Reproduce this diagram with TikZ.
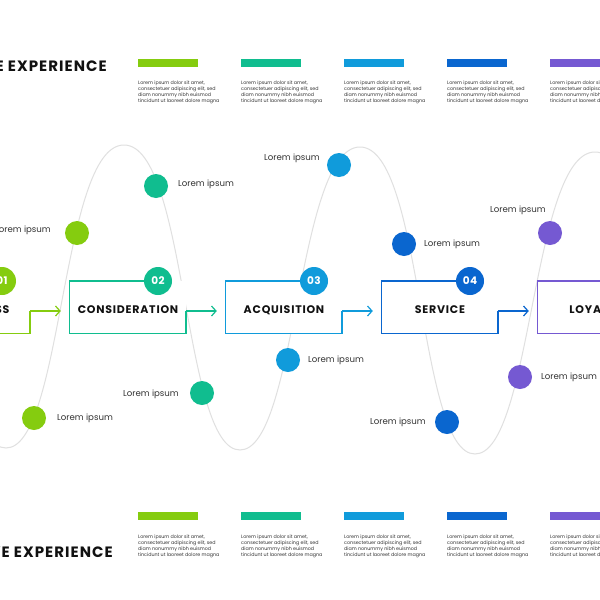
\documentclass[tikz,border=0pt]{standalone}
\usepackage{fontspec}
\setmainfont{Poppins}
\usetikzlibrary{arrows.meta}
\definecolor{cgreen}{HTML}{85CC0F}
\definecolor{cteal}{HTML}{10BD8F}
\definecolor{cblue}{HTML}{109BDB}
\definecolor{cdblue}{HTML}{0A66CF}
\definecolor{cpurple}{HTML}{7559D2}
\definecolor{wavegray}{HTML}{E0E0E0}
\definecolor{txtgray}{HTML}{333333}
\definecolor{txtdark}{HTML}{111111}
\begin{document}
\begin{tikzpicture}[x=1pt,y=-1pt,
  dot/.style={circle,inner sep=0,minimum size=24pt},
  lbl/.style={font=\fontsize{8.6}{10}\selectfont,text=txtgray,inner sep=0},
  badge/.style={circle,inner sep=0,minimum size=28pt,text=white,font=\bfseries\fontsize{10.5}{12}\selectfont\addfontfeatures{LetterSpace=4}},
  stagebox/.style={fill=white,inner sep=0,minimum width=116pt,minimum height=52pt},
  stagetxt/.style={font=\bfseries\fontsize{11}{12}\selectfont\addfontfeatures{LetterSpace=7},text=txtdark,inner sep=0},
  para/.style={font=\fontsize{4.8}{6}\selectfont,align=left,inner sep=0,anchor=north west,text=txtgray},
  bar/.style={minimum width=60pt,minimum height=8pt,inner sep=0,anchor=north west},
  title/.style={font=\bfseries\fontsize{15}{17}\selectfont\addfontfeatures{LetterSpace=7},anchor=east,inner sep=0,text=txtdark},
  flow/.style={line width=1.2pt},
  flowarrow/.style={line width=1.2pt,-{Straight Barb[length=4.5pt,width=10pt]}},
  wave/.style={draw=wavegray,line width=1pt}]
\useasboundingbox (0,0) rectangle (600,600);
\clip (0,0) rectangle (600,600);
\fill[white] (0,0) rectangle (600,600);

% titles
\node[title] (ttop) at (107,66) {POSITIVE EXPERIENCE};
\node[title] (tbot) at (113,552) {NEGATIVE EXPERIENCE};

% top bars and texts
\foreach \x/\c [count=\i] in {138/cgreen,241/cteal,344/cblue,447/cdblue,550/cpurple}{
  \node[bar,fill=\c] (tb\i) at (\x,59) {};
  \node[para] (tp\i) at (\x,80.5) {Lorem ipsum dolor sit amet,\\consectetuer adipiscing elit, sed\\diam nonummy nibh euismod\\tincidunt ut laoreet dolore magna};
  \node[bar,fill=\c] (bb\i) at (\x,512) {};
  \node[para] (bp\i) at (\x,534.5) {Lorem ipsum dolor sit amet,\\consectetuer adipiscing elit, sed\\diam nonummy nibh euismod\\tincidunt ut laoreet dolore magna};
}

% wave
\draw[wave] (-112,143) .. controls (-49,143) and (-51,448) .. (6,448)
  .. controls (63,448) and (61,145) .. (124,145)
  .. controls (187,145) and (183,450) .. (240,450)
  .. controls (297,450) and (297,147) .. (360,147)
  .. controls (423,147) and (418,454) .. (475,454)
  .. controls (532,454) and (532,152) .. (595,152)
  .. controls (658,152) and (655,456) .. (712,456);

% stage boxes
\foreach \L/\c/\t/\n [count=\i] in {-86/cgreen/AWARENESS/01,70/cteal/CONSIDERATION/02,226/cblue/ACQUISITION/03,382/cdblue/SERVICE/04,538/cpurple/LOYALTY/05}{
  \node[stagebox] (b\i) at (\L+58,307) {};
  \node[stagetxt] (s\i) at (\L+58,310) {\t};
  \coordinate (e\i) at (\L+116,311);
  \draw[flow,draw=\c] (\L+74,281) -| (b\i.south west) -| (e\i);
  \node[badge,fill=\c] (n\i) at (\L+88,281) {\n};
}
\draw[flowarrow,draw=cgreen] (e1) -- ([xshift=-9pt,yshift=-4pt]b2.west);
\draw[flowarrow,draw=cteal] (e2) -- ([xshift=-9pt,yshift=-4pt]b3.west);
\draw[flowarrow,draw=cblue] (e3) -- ([xshift=-9pt,yshift=-4pt]b4.west);
\draw[flowarrow,draw=cdblue] (e4) -- ([xshift=-9pt,yshift=-4pt]b5.west);

% dots
\node[dot,fill=cgreen] (d1) at (77,233) {};
\node[dot,fill=cgreen] (d2) at (34,418) {};
\node[dot,fill=cteal] (d3) at (156,186) {};
\node[dot,fill=cteal] (d4) at (202,393) {};
\node[dot,fill=cblue] (d5) at (339,165) {};
\node[dot,fill=cblue] (d6) at (288,360) {};
\node[dot,fill=cdblue] (d7) at (404,244) {};
\node[dot,fill=cdblue] (d8) at (447,422) {};
\node[dot,fill=cpurple] (d9) at (550,233) {};
\node[dot,fill=cpurple] (d10) at (520,377) {};

% labels
\node[lbl,anchor=east] (l1) at (51,230) {Lorem ipsum};
\node[lbl,anchor=west] (l2) at (57,418) {Lorem ipsum};
\node[lbl,anchor=west] (l3) at (178,184) {Lorem ipsum};
\node[lbl,anchor=east] (l4) at (179,394) {Lorem ipsum};
\node[lbl,anchor=east] (l5) at (320,158) {Lorem ipsum};
\node[lbl,anchor=west] (l6) at (308,360) {Lorem ipsum};
\node[lbl,anchor=west] (l7) at (424,244) {Lorem ipsum};
\node[lbl,anchor=east] (l8) at (426,422) {Lorem ipsum};
\node[lbl,anchor=east] (l9) at (546,210) {Lorem ipsum};
\node[lbl,anchor=west] (l10) at (541,377) {Lorem ipsum};
\end{tikzpicture}
\end{document}
